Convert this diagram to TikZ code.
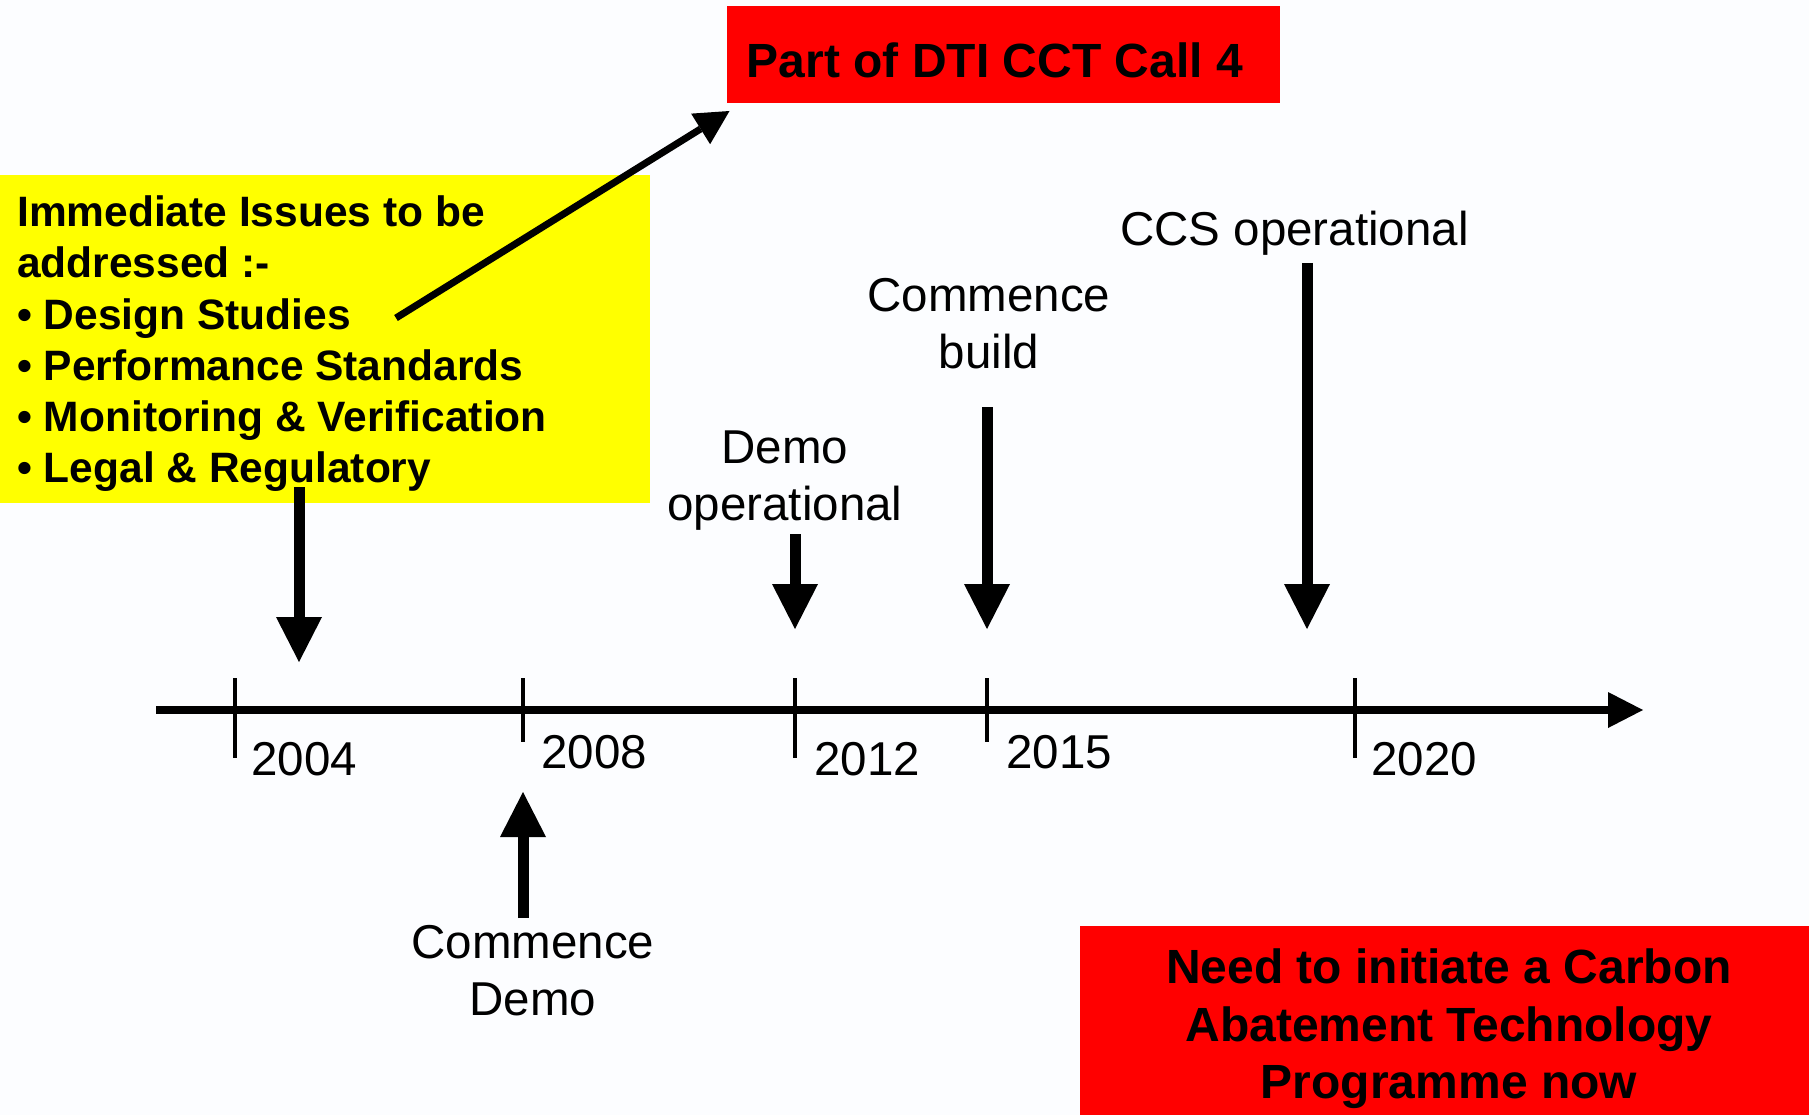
\documentclass[tikz,border=0pt]{standalone}
\usepackage{fontspec}
\setmainfont{Liberation Sans}
\usetikzlibrary{arrows.meta}
\definecolor{bgcol}{RGB}{252,253,255}
\definecolor{boxred}{RGB}{255,0,0}
\definecolor{boxyellow}{RGB}{255,255,0}
\tikzset{
  lbl/.style={inner sep=0pt, anchor=base, font=\fontsize{47.5}{57}\selectfont},
  yearlbl/.style={inner sep=0pt, anchor=base west, font=\fontsize{47.5}{57}\selectfont},
  issue/.style={inner sep=0pt, anchor=base west, font=\bfseries\fontsize{42.5}{51}\selectfont},
  redtxt/.style={inner sep=0pt, anchor=base, font=\bfseries\fontsize{48}{57.5}\selectfont},
  panel/.style={inner sep=0pt, outer sep=0pt, anchor=north west},
  marker/.style={line width=11pt, -{Triangle[length=45pt,width=46pt,line width=0pt]}},
  axisline/.style={line width=8pt, -{Triangle[length=35pt,width=36pt,line width=0pt]}},
  pointer/.style={line width=7pt, -{Triangle[length=34pt,width=36pt,line width=0pt]}},
  yeartick/.style={line width=3.5pt},
}
\begin{document}
\begin{tikzpicture}[x=1pt,y=-1pt]
\fill[bgcol] (0,0) rectangle (1809,1115);
\useasboundingbox (0,0) rectangle (1809,1115);

% panels
\node[panel, fill=boxred, minimum width=553pt, minimum height=97pt] (call) at (727,6) {};
\node[panel, fill=boxyellow, minimum width=650pt, minimum height=328pt] (issues) at (0,175) {};
\node[panel, fill=boxred, minimum width=729pt, minimum height=189pt] (need) at (1080,926) {};

% panel texts
\node[redtxt] (calltxt) at (995,78) {Part of DTI CCT Call 4};
\node[issue] (i1) at (17,227) {Immediate Issues to be};
\node[issue] (i2) at (17,278) {addressed :-};
\node[issue] (i3) at (17,329) {• Design Studies};
\node[issue] (i4) at (17,380) {• Performance Standards};
\node[issue] (i5) at (17,431) {• Monitoring \& Verification};
\node[issue] (i6) at (17,482) {• Legal \& Regulatory};
\node[redtxt] (n1) at (1449,983) {Need to initiate a Carbon};
\node[redtxt] (n2) at (1449,1041) {Abatement Technology};
\node[redtxt] (n3) at (1449,1098) {Programme now};

% time axis
\coordinate (axstart) at (156,710);
\coordinate (axend) at (1643,710);
\draw[axisline] (axstart) -- (axend);

% year ticks
\coordinate (t04a) at (235,678); \coordinate (t04b) at (235,758);
\coordinate (t08a) at (523,678); \coordinate (t08b) at (523,742);
\coordinate (t12a) at (795,678); \coordinate (t12b) at (795,758);
\coordinate (t15a) at (987,678); \coordinate (t15b) at (987,742);
\coordinate (t20a) at (1355,678); \coordinate (t20b) at (1355,758);
\draw[yeartick] (t04a) -- (t04b);
\draw[yeartick] (t08a) -- (t08b);
\draw[yeartick] (t12a) -- (t12b);
\draw[yeartick] (t15a) -- (t15b);
\draw[yeartick] (t20a) -- (t20b);

\node[yearlbl] (y04) at (251,775) {2004};
\node[yearlbl] (y08) at (541,768) {2008};
\node[yearlbl] (y12) at (814,775) {2012};
\node[yearlbl] (y15) at (1006,768) {2015};
\node[yearlbl] (y20) at (1371,775) {2020};

% milestone labels
\node[lbl] (ccs) at (1294.5,246) {CCS operational};
\node[lbl] (build1) at (989,312) {Commence};
\node[lbl] (build2) at (989,368) {build};
\node[lbl] (demo1) at (785,463) {Demo};
\node[lbl] (demo2) at (785,520) {operational};
\node[lbl] (start1) at (533,958) {Commence};
\node[lbl] (start2) at (533,1015) {Demo};

% milestone arrows
\coordinate (m04a) at (299,487);  \coordinate (m04b) at (299,662);
\coordinate (mdea) at (795,534);  \coordinate (mdeb) at (795,629);
\coordinate (mbua) at (987,407);  \coordinate (mbub) at (987,629);
\coordinate (mcca) at (1307,263); \coordinate (mccb) at (1307,629);
\coordinate (msta) at (523,918);  \coordinate (mstb) at (523,792);
\draw[marker] (m04a) -- (m04b);
\draw[marker] (mdea) -- (mdeb);
\draw[marker] (mbua) -- (mbub);
\draw[marker] (mcca) -- (mccb);
\draw[marker] (msta) -- (mstb);

% link from the design studies to the funding call
\coordinate (linkfrom) at (396,318);
\coordinate (linkto) at (729.5,111);
\draw[pointer] (linkfrom) -- (linkto);
\end{tikzpicture}
\end{document}
